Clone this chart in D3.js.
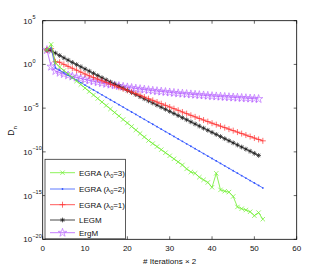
<!DOCTYPE html>
<meta charset="utf-8">
<script src="https://d3js.org/d3.v7.min.js"></script>
<style>
  body { margin: 0; background: #fff; }
  text { font-family: "Liberation Sans", Arial, sans-serif; fill: #111; }
</style>
<div id="chart"></div>
<script>
// iterations (x) and log10(D_n)
var iters = d3.range(1, 53);
var egra3 = [1.65, 2.3, 0.2, -0.3, -0.7, -1.1, -1.5, -1.9, -2.3, -2.7, -3.1, -3.5, -3.9, -4.3, -4.7, -5.1, -5.5, -5.9, -6.3, -6.7,
  -7.1, -7.5, -7.9, -8.3, -8.7, -9.05, -9.4, -9.75, -10.1, -10.45, -10.8, -11.15, -11.5, -11.95, -12.3, -12.45, -12.9, -13.2, -13.5, -14.05,
  -12.45, -14.35, -14.5, -14.6, -15.1, -16.3, -16.5, -16.65, -16.85, -17.3, -16.95, -17.7];
var egra2 = [1.65, 1.9, -0.4, -0.68, -0.96, -1.24, -1.52, -1.8, -2.08, -2.36, -2.64, -2.92, -3.2, -3.48, -3.76, -4.04, -4.32, -4.6, -4.88, -5.16,
  -5.44, -5.72, -6.0, -6.28, -6.56, -6.84, -7.12, -7.4, -7.68, -7.96, -8.24, -8.52, -8.8, -9.08, -9.36, -9.64, -9.92, -10.2, -10.48, -10.76,
  -11.04, -11.32, -11.6, -11.88, -12.16, -12.44, -12.72, -13.0, -13.28, -13.56, -13.84, -14.12];
var egra1 = [1.65, 1.8, 0.3, 0.25, 0.0, -0.22, -0.44, -0.66, -0.88, -1.1, -1.3, -1.49, -1.68, -1.87, -2.06, -2.25, -2.43, -2.61, -2.79, -2.97,
  -3.16, -3.35, -3.54, -3.73, -3.92, -4.11, -4.3, -4.49, -4.68, -4.87, -5.06, -5.25, -5.44, -5.63, -5.82, -6.0, -6.18, -6.36, -6.54, -6.72,
  -6.89, -7.06, -7.23, -7.4, -7.57, -7.74, -7.91, -8.08, -8.25, -8.42, -8.58, -8.74];
var legm = [1.65, 1.6, 1.3, 1.02, 0.75, 0.49, 0.23, -0.02, -0.27, -0.52, -0.77, -1.02, -1.27, -1.52, -1.77, -2.01, -2.25, -2.49, -2.73, -2.97,
  -3.21, -3.45, -3.69, -3.93, -4.17, -4.41, -4.65, -4.89, -5.13, -5.37, -5.61, -5.85, -6.09, -6.33, -6.57, -6.81, -7.05, -7.29, -7.53, -7.77,
  -8.01, -8.25, -8.49, -8.73, -8.97, -9.21, -9.45, -9.69, -9.93, -10.17, -10.41];
var ergm = [1.65, -0.25, -0.75, -0.95, -1.1, -1.25, -1.38, -1.5, -1.62, -1.73, -1.84, -1.94, -2.04, -2.13, -2.22, -2.31, -2.39, -2.47, -2.55, -2.62,
  -2.69, -2.76, -2.82, -2.88, -2.94, -3.0, -3.05, -3.1, -3.15, -3.2, -3.25, -3.3, -3.34, -3.38, -3.42, -3.46, -3.5, -3.54, -3.58, -3.62,
  -3.65, -3.68, -3.71, -3.74, -3.77, -3.8, -3.83, -3.86, -3.89, -3.92, -3.95];

var seriesNames = ["EGRA (λ0=3)", "EGRA (λ0=2)", "EGRA (λ0=1)", "LEGM", "ErgM"];
var xTicks = [0, 10, 20, 30, 40, 50, 60];
var yTickExp = [5, 0, -5, -10, -15, -20];

var series = [
  {name: seriesNames[0], vals: egra3, color: "#6fef2f", marker: "x"},
  {name: seriesNames[1], vals: egra2, color: "#3558ff", marker: "dot"},
  {name: seriesNames[2], vals: egra1, color: "#ff2e2e", marker: "plus"},
  {name: seriesNames[3], vals: legm, color: "#1a1a1a", marker: "star"},
  {name: seriesNames[4], vals: ergm, color: "#b45cff", marker: "penta"}
];

var W = 327, H = 273;
var margin = {top: 20.7, right: 30.3, bottom: 33.7, left: 42.7},
    width = W - margin.left - margin.right,
    height = H - margin.top - margin.bottom;

var svg = d3.select("#chart").append("svg")
    .attr("width", W).attr("height", H);
var g = svg.append("g")
    .attr("transform", "translate(" + margin.left + "," + margin.top + ")");

var x = d3.scaleLinear().domain([0, 60]).range([0, width]);
var y = d3.scaleLog().domain([1e-20, 1e5]).range([height, 0]);

// box
g.append("rect").attr("width", width).attr("height", height)
  .attr("fill", "none").attr("stroke", "#000").attr("stroke-width", 0.8);

// inward ticks on all four sides
var tl = 3;
xTicks.forEach(function(t) {
  g.append("line").attr("x1", x(t)).attr("x2", x(t)).attr("y1", height).attr("y2", height - tl)
    .attr("stroke", "#000").attr("stroke-width", 0.6);
  g.append("line").attr("x1", x(t)).attr("x2", x(t)).attr("y1", 0).attr("y2", tl)
    .attr("stroke", "#000").attr("stroke-width", 0.6);
  g.append("text").attr("x", x(t)).attr("y", height + 11.5)
    .attr("text-anchor", "middle").style("font-size", "8px").text(t);
});
yTickExp.forEach(function(e) {
  var yy = y(Math.pow(10, e));
  g.append("line").attr("x1", 0).attr("x2", tl).attr("y1", yy).attr("y2", yy)
    .attr("stroke", "#000").attr("stroke-width", 0.6);
  g.append("line").attr("x1", width).attr("x2", width - tl).attr("y1", yy).attr("y2", yy)
    .attr("stroke", "#000").attr("stroke-width", 0.6);
  g.append("text").attr("x", -10.5).attr("y", yy + 3)
    .attr("text-anchor", "end").style("font-size", "8px").text("10");
  g.append("text").attr("x", -10.3).attr("y", yy - 1.5)
    .style("font-size", "5.5px").text(e < 0 ? "\u2212" + (-e) : e);
});

// axis labels
svg.append("text").attr("x", margin.left + width / 2).attr("y", 263.5)
  .attr("text-anchor", "middle").style("font-size", "8px").text("# Iterations \u00d7 2");
var yl = svg.append("text").attr("transform", "translate(14,131) rotate(-90)")
  .attr("text-anchor", "middle").style("font-size", "8.5px");
yl.append("tspan").text("D");
yl.append("tspan").attr("dy", 2.5).style("font-size", "6px").text("n");

function drawMarker(sel, type, color, cx, cy) {
  var s = 2.2;
  if (type === "x") {
    sel.append("path").attr("d", "M" + (cx - s) + "," + (cy - s) + "L" + (cx + s) + "," + (cy + s) +
      "M" + (cx - s) + "," + (cy + s) + "L" + (cx + s) + "," + (cy - s))
      .attr("stroke", color).attr("stroke-width", 0.7).attr("fill", "none");
  } else if (type === "plus") {
    s = 3;
    sel.append("path").attr("d", "M" + (cx - s) + "," + cy + "L" + (cx + s) + "," + cy +
      "M" + cx + "," + (cy - s) + "L" + cx + "," + (cy + s))
      .attr("stroke", color).attr("stroke-width", 0.7).attr("fill", "none");
  } else if (type === "dot") {
    sel.append("circle").attr("cx", cx).attr("cy", cy).attr("r", 0.9).attr("fill", color);
  } else if (type === "star") {
    s = 2.4;
    var d = 1.7;
    sel.append("path").attr("d", "M" + (cx - s) + "," + cy + "L" + (cx + s) + "," + cy +
      "M" + cx + "," + (cy - s) + "L" + cx + "," + (cy + s) +
      "M" + (cx - d) + "," + (cy - d) + "L" + (cx + d) + "," + (cy + d) +
      "M" + (cx - d) + "," + (cy + d) + "L" + (cx + d) + "," + (cy - d))
      .attr("stroke", color).attr("stroke-width", 0.7).attr("fill", "none");
  } else if (type === "penta") {
    sel.append("path").attr("d", d3.symbol().type(d3.symbolStar).size(22)())
      .attr("transform", "translate(" + cx + "," + cy + ")")
      .attr("fill", "none").attr("stroke", color).attr("stroke-width", 0.6);
  }
}

var line = d3.line()
  .x(function(d) { return x(d[0]); })
  .y(function(d) { return y(Math.pow(10, d[1])); });

// ErgM first, EGRA (λ0=3) last
var order = [4, 3, 2, 1, 0];
order.forEach(function(k) {
  var s = series[k];
  var pts = s.vals.map(function(v, i) { return [iters[i], v]; });
  var sg = g.append("g");
  sg.append("path").datum(pts).attr("d", line)
    .attr("fill", "none").attr("stroke", s.color).attr("stroke-width", 0.8);
  pts.forEach(function(p) { drawMarker(sg, s.marker, s.color, x(p[0]), y(Math.pow(10, p[1]))); });
});

// legend
var lg = g.append("g").attr("transform", "translate(" + (45 - margin.left) + "," + (159.3 - margin.top) + ")");
lg.append("rect").attr("width", 80.5).attr("height", 79.5)
  .attr("fill", "#fff").attr("stroke", "#333").attr("stroke-width", 0.8);
var ly = [13.4, 29.7, 45.4, 60.7, 73.4];
series.forEach(function(s, i) {
  lg.append("line").attr("x1", 5).attr("x2", 30).attr("y1", ly[i]).attr("y2", ly[i])
    .attr("stroke", s.color).attr("stroke-width", 0.8);
  drawMarker(lg, s.marker, s.color, 17.5, ly[i]);
  var t = lg.append("text").attr("x", 34).attr("y", ly[i] + 2.9).style("font-size", "8px");
  if (s.name.indexOf("λ") >= 0) {
    var parts = s.name.split("λ0");
    t.append("tspan").text(parts[0] + "λ");
    t.append("tspan").attr("dy", 2).style("font-size", "5.5px").text("0");
    t.append("tspan").attr("dy", -2).text(parts[1]);
  } else {
    t.text(s.name);
  }
});
</script>
